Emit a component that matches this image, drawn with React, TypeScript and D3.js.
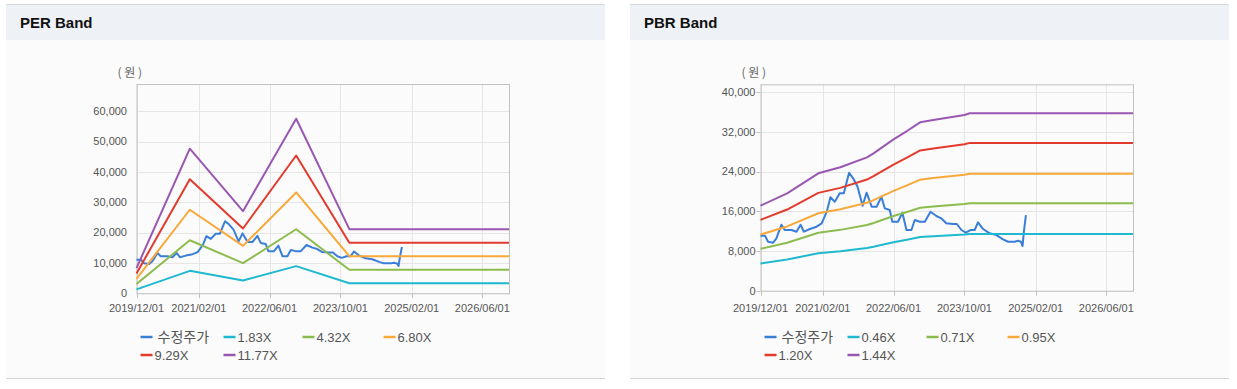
import React, { useEffect, useRef } from 'react';
import * as d3 from 'd3';

const W = 1237;
const H = 389;

// x axis ticks (shared by both charts)
const xTickDates = ['2019-12-01', '2021-02-01', '2022-06-01', '2023-10-01', '2025-02-01', '2026-06-01'];
const perYTicks = [0, 10000, 20000, 30000, 40000, 50000, 60000];
const pbrYTicks = [0, 8000, 16000, 24000, 32000, 40000];

// adjusted close (수정주가)
const priceDates = [
  '2019-12-01', '2020-01-01', '2020-01-22', '2020-02-26', '2020-03-19', '2020-04-23', '2020-05-15',
  '2020-07-01', '2020-08-04', '2020-09-01', '2020-09-24', '2020-11-04', '2020-12-20', '2021-01-24',
  '2021-02-28', '2021-03-25', '2021-04-24', '2021-05-28', '2021-06-25', '2021-07-31', '2021-08-28',
  '2021-09-27', '2021-11-01', '2021-11-28', '2022-01-02', '2022-02-05', '2022-03-10', '2022-04-02',
  '2022-05-06', '2022-05-24', '2022-07-02', '2022-08-01', '2022-08-29', '2022-10-02', '2022-10-25',
  '2022-11-28', '2023-01-02', '2023-02-10', '2023-03-22', '2023-04-25', '2023-05-29', '2023-07-14',
  '2023-08-10', '2023-09-10', '2023-10-10', '2023-11-11', '2023-12-10', '2024-01-02', '2024-02-06',
  '2024-03-22', '2024-05-07', '2024-06-22', '2024-07-26', '2024-09-11', '2024-10-03', '2024-10-22',
  '2024-11-03', '2024-11-12', '2024-11-26',
];
const priceValues = [
  11080, 11080, 9870, 9670, 10550, 13300, 12230,
  12230, 11890, 13300, 11890, 12430, 12900, 13580,
  15920, 18820, 17930, 19630, 19630, 23780, 22650,
  20960, 17130, 19750, 16930, 16930, 18940, 16600,
  16260, 13900, 13900, 15720, 12230, 12230, 14250,
  13900, 13900, 15920, 15050, 14590, 13580, 13440,
  13440, 12230, 11690, 12230, 12230, 13780, 12430,
  11570, 11220, 10360, 9870, 9870, 10080, 9870,
  9010, 11890, 15250,
];

// PER band
const perDates = ['2019-12-01', '2020-12-01', '2021-12-01', '2022-12-01', '2023-12-01', '2026-12-01'];
const per183 = [1290, 7410, 4210, 8950, 3290, 3290];
const per432 = [3050, 17500, 9940, 21120, 7760, 7760];
const per680 = [4790, 27540, 15640, 33250, 12220, 12220];
const per929 = [6550, 37620, 21370, 45430, 16690, 16690];
const per1177 = [8300, 47670, 27070, 57560, 21150, 21150];

// PBR band
const pbrDates = [
  '2019-12-01', '2020-06-01', '2021-01-01', '2021-06-01', '2021-12-01', '2022-01-15', '2022-06-01',
  '2022-09-01', '2022-12-01', '2023-03-01', '2023-10-01', '2023-11-07', '2026-12-01',
];
const pbr046 = [5472, 6271, 7558, 7945, 8587, 8845, 9746, 10280, 10839, 10989, 11311, 11420, 11420];
const pbr071 = [8446, 9679, 11666, 12262, 13254, 13653, 15043, 15866, 16730, 16961, 17459, 17626, 17626];
const pbr095 = [11301, 12950, 15609, 16407, 17734, 18268, 20129, 21230, 22385, 22695, 23361, 23585, 23585];
const pbr120 = [14275, 16358, 19717, 20725, 22400, 23075, 25426, 26816, 28276, 28667, 29508, 29791, 29791];
const pbr144 = [17130, 19630, 23660, 24870, 26880, 27690, 30510, 32180, 33930, 34400, 35410, 35750, 35750];

const COLORS = ['#3a7ed8', '#1fb9cf', '#8dbc4e', '#f9a83a', '#e23a2c', '#9a57b1'];

const parse = d3.timeParse('%Y-%m-%d');
const fmtDate = d3.timeFormat('%Y/%m/%d');
const fmtNum = d3.format(',');
const LATIN = "'Liberation Sans', Arial, 'Noto Sans CJK KR', sans-serif";

function drawChart(svg, cfg) {
  const { panelX, panelW, title, left, top, width, height, yMax, yTicks, yTickLen, yGap, series } = cfg;
  const g = svg.append('g');

  // panel
  g.append('rect').attr('x', panelX).attr('y', 40).attr('width', panelW).attr('height', 338).attr('fill', '#fbfbfb');
  g.append('rect').attr('x', panelX).attr('y', 5).attr('width', panelW).attr('height', 35).attr('fill', '#eef2f7');
  g.append('line').attr('x1', panelX).attr('x2', panelX + panelW).attr('y1', 4.5).attr('y2', 4.5)
    .attr('stroke', '#d6d6d6');
  g.append('line').attr('x1', panelX).attr('x2', panelX + panelW).attr('y1', 378.5).attr('y2', 378.5)
    .attr('stroke', '#d6d6d6');
  g.append('text').attr('x', panelX + 14).attr('y', 28).attr('font-family', LATIN).attr('font-weight', 'bold')
    .attr('font-size', 15).attr('fill', '#111').text(title);

  const x = d3.scaleTime()
    .domain([parse('2019-12-01'), parse('2026-12-01')])
    .range([left, left + width]);
  const y = d3.scaleLinear().domain([0, yMax]).range([top + height, top]);

  // grid
  g.selectAll('.hgrid').data(yTicks).enter().append('line')
    .attr('x1', left).attr('x2', left + width)
    .attr('y1', d => Math.round(y(d)) + 0.5).attr('y2', d => Math.round(y(d)) + 0.5)
    .attr('stroke', '#e6e6e6');
  g.selectAll('.vgrid').data(xTickDates).enter().append('line')
    .attr('x1', d => Math.round(x(parse(d))) + 0.5).attr('x2', d => Math.round(x(parse(d))) + 0.5)
    .attr('y1', top).attr('y2', top + height)
    .attr('stroke', '#e6e6e6');

  // frame
  g.append('rect').attr('x', left + 0.5).attr('y', top + 0.5).attr('width', width).attr('height', height)
    .attr('fill', 'none').attr('stroke', '#c2c2c2');

  // y axis labels
  g.selectAll('.ylab').data(yTicks).enter().append('text')
    .attr('x', left - yGap).attr('y', d => y(d)).attr('dy', '0.35em')
    .attr('text-anchor', 'end').attr('font-family', LATIN).attr('font-size', 11).attr('fill', '#555')
    .text(d => fmtNum(d));
  if (yTickLen > 0) {
    g.selectAll('.ytick').data(yTicks).enter().append('line')
      .attr('x1', left - yTickLen).attr('x2', left)
      .attr('y1', d => Math.round(y(d)) + 0.5).attr('y2', d => Math.round(y(d)) + 0.5)
      .attr('stroke', '#c2c2c2');
  }

  // x axis ticks + labels
  g.selectAll('.xtick').data(xTickDates).enter().append('line')
    .attr('x1', d => Math.round(x(parse(d))) + 0.5).attr('x2', d => Math.round(x(parse(d))) + 0.5)
    .attr('y1', top + height).attr('y2', top + height + 5)
    .attr('stroke', '#c2c2c2');
  g.selectAll('.xlab').data(xTickDates).enter().append('text')
    .attr('x', d => x(parse(d))).attr('y', 312)
    .attr('text-anchor', 'middle').attr('font-family', LATIN).attr('font-size', 11).attr('fill', '#555')
    .text(d => fmtDate(parse(d)));

  // unit
  g.append('text').attr('x', left - 19).attr('y', 77)
    .attr('font-family', "'Noto Sans CJK KR', sans-serif").attr('font-size', 12).attr('fill', '#666')
    .text('( 원 )');

  // lines
  const line = d3.line().x(d => x(d[0])).y(d => y(d[1]));
  series.forEach((s, i) => {
    const pts = s.dates.map((d, k) => [parse(d), s.values[k]]);
    g.append('path').attr('d', line(pts)).attr('fill', 'none')
      .attr('stroke', COLORS[i]).attr('stroke-width', 2).attr('stroke-linejoin', 'round');
  });

  // legend
  const lx = left + 4;
  const cols = [0, 83, 162, 243];
  series.forEach((s, i) => {
    const row = Math.floor(i / 4);
    const cx = lx + cols[i % 4];
    const cy = row === 0 ? 337 : 355;
    g.append('line').attr('x1', cx).attr('x2', cx + 12).attr('y1', cy).attr('y2', cy)
      .attr('stroke', COLORS[i]).attr('stroke-width', 2.5);
    g.append('text').attr('x', cx + (i === 0 ? 17 : 14)).attr('y', cy).attr('dy', '0.36em')
      .attr('font-family', LATIN).attr('font-size', i === 0 ? 14 : 13).attr('fill', '#555')
      .text(s.name);
  });
}

const App = () => {
  const svgRef = useRef(null);

  useEffect(() => {
    const svg = d3.select(svgRef.current);
    svg.selectAll('*').remove();

    drawChart(svg, {
      panelX: 6, panelW: 599, title: 'PER Band',
      left: 136.5, top: 84, width: 372.5, height: 209.3,
      yMax: 69000, yTicks: perYTicks, yTickLen: 0, yGap: 9.5,
      series: [
        { name: '수정주가', dates: priceDates, values: priceValues },
        { name: '1.83X', dates: perDates, values: per183 },
        { name: '4.32X', dates: perDates, values: per432 },
        { name: '6.80X', dates: perDates, values: per680 },
        { name: '9.29X', dates: perDates, values: per929 },
        { name: '11.77X', dates: perDates, values: per1177 },
      ],
    });

    drawChart(svg, {
      panelX: 630, panelW: 599, title: 'PBR Band',
      left: 760.5, top: 84.3, width: 372.5, height: 206.4,
      yMax: 41600, yTicks: pbrYTicks, yTickLen: 4, yGap: 5,
      series: [
        { name: '수정주가', dates: priceDates, values: priceValues },
        { name: '0.46X', dates: pbrDates, values: pbr046 },
        { name: '0.71X', dates: pbrDates, values: pbr071 },
        { name: '0.95X', dates: pbrDates, values: pbr095 },
        { name: '1.20X', dates: pbrDates, values: pbr120 },
        { name: '1.44X', dates: pbrDates, values: pbr144 },
      ],
    });
  }, []);

  return (
    <div style={{ position: 'absolute', left: 0, top: 0, width: W, height: H, background: '#fff' }}>
      <svg ref={svgRef} width={W} height={H} style={{ display: 'block' }}></svg>
    </div>
  );
};

export default App;
